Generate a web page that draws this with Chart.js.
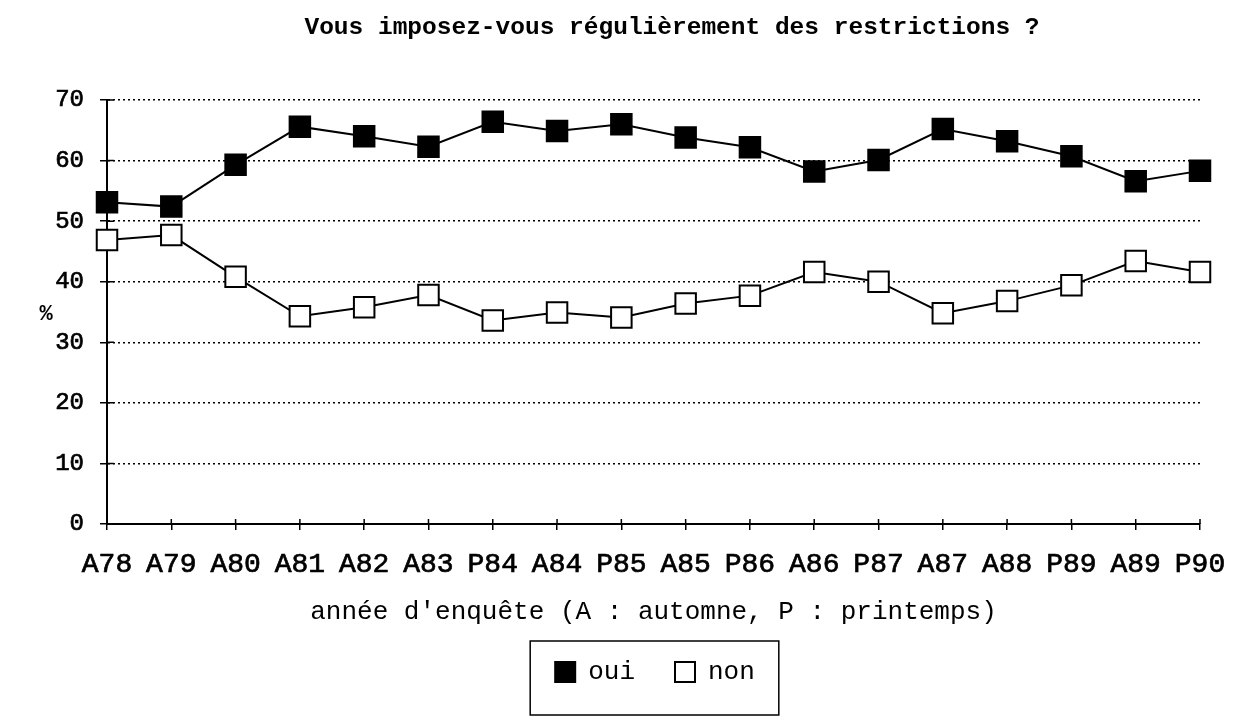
<!DOCTYPE html>
<html>
<head>
<meta charset="utf-8">
<script src="https://cdn.jsdelivr.net/npm/chart.js@4"></script>
<style>
  html, body { margin: 0; padding: 0; background: #fff; }
  #wrap { width: 1246px; height: 716px; }
</style>
</head>
<body>
<div id="wrap"><canvas id="c" width="1246" height="716"></canvas></div>
<script>
const titleText = "Vous imposez-vous régulièrement des restrictions ?";
const xTitle = "année d'enquête (A : automne, P : printemps)";
const yTitle = "%";
const categories = ["A78","A79","A80","A81","A82","A83","P84","A84","P85","A85","P86","A86","P87","A87","A88","P89","A89","P90"];
const ouiValues = [53.1, 52.4, 59.3, 65.6, 64.0, 62.3, 66.4, 64.9, 66.0, 63.8, 62.2, 58.2, 60.1, 65.2, 63.2, 60.7, 56.6, 58.3];
const nonValues = [46.9, 47.7, 40.8, 34.3, 35.8, 37.8, 33.6, 34.9, 34.1, 36.4, 37.7, 41.6, 40.0, 34.8, 36.8, 39.4, 43.4, 41.6];
const seriesNames = ["oui", "non"];
const yTicks = [0, 10, 20, 30, 40, 50, 60, 70];

const FONT = "'Liberation Mono', 'Courier New', monospace";

const decorPlugin = {
  id: 'decor',
  afterLayout(chart) {
    const lg = chart.legend;
    if (!lg) return;
    const h = lg.bottom - lg.top;
    const targetCenter = 655;
    const d = targetCenter - (lg.left + lg.right) / 2;
    lg.left += d; lg.right += d;
    lg.top = 619; lg.bottom = lg.top + h;
  },
  afterDraw(chart) {
    const ctx = chart.ctx;
    ctx.save();
    // title
    ctx.fillStyle = '#000';
    ctx.font = "bold 24.5px " + FONT;
    ctx.textAlign = 'center';
    ctx.textBaseline = 'alphabetic';
    ctx.fillText(titleText, 672, 34);
    // y title (horizontal)
    ctx.font = "bold 22px " + FONT;
    ctx.fillText(yTitle, 46, 320);
    // inner halves of the axis ticks (crossing marks)
    const xs = chart.scales.x, ys = chart.scales.y;
    ctx.strokeStyle = '#000';
    ctx.lineWidth = 1.5;
    ctx.beginPath();
    ys.ticks.forEach((t, i) => {
      const y = ys.getPixelForTick(i);
      ctx.moveTo(xs.left, y); ctx.lineTo(xs.left + 7, y);
    });
    xs.ticks.forEach((t, i) => {
      const x = xs.getPixelForTick(i);
      ctx.moveTo(x, ys.bottom); ctx.lineTo(x, ys.bottom - 5);
    });
    ctx.stroke();
    // legend frame
    const lg = chart.legend;
    if (lg && lg.legendHitBoxes && lg.legendHitBoxes.length) {
      const hb = lg.legendHitBoxes;
      const l = hb[0].left - 25;
      const r = hb[hb.length - 1].left + hb[hb.length - 1].width + 24;
      const t = hb[0].top - 18;
      const b = 715;
      ctx.lineWidth = 1.5;
      ctx.strokeRect(l, t, r - l, b - t);
    }
    ctx.restore();
  }
};

new Chart(document.getElementById('c'), {
  type: 'line',
  data: {
    labels: categories,
    datasets: [
      {
        label: seriesNames[0],
        data: ouiValues,
        borderColor: '#000',
        backgroundColor: '#000',
        borderWidth: 2,
        pointStyle: 'rect',
        pointRadius: 14.5,
        pointBackgroundColor: '#000',
        pointBorderColor: '#000',
        pointBorderWidth: 2,
        tension: 0,
        clip: false
      },
      {
        label: seriesNames[1],
        data: nonValues,
        borderColor: '#000',
        backgroundColor: '#fff',
        borderWidth: 2,
        pointStyle: 'rect',
        pointRadius: 14.5,
        pointBackgroundColor: '#fff',
        pointBorderColor: '#000',
        pointBorderWidth: 2,
        tension: 0,
        clip: false
      }
    ]
  },
  options: {
    responsive: false,
    animation: false,
    events: [],
    layout: { padding: { top: 100, left: 0, right: 46, bottom: 0 } },
    plugins: {
      title: { display: false },
      tooltip: { enabled: false },
      legend: {
        display: true,
        position: 'bottom',
        labels: {
          color: '#000',
          font: { family: FONT, size: 26 },
          boxWidth: 20,
          boxHeight: 20,
          padding: 40
        }
      }
    },
    scales: {
      x: {
        type: 'category',
        offset: false,
        grid: {
          display: true,
          drawOnChartArea: false,
          drawTicks: true,
          tickLength: 6,
          color: '#000',
          lineWidth: 1.5
        },
        border: { display: true, color: '#000', width: 2 },
        ticks: {
          color: '#000',
          font: { family: FONT, size: 28 },
          textStrokeColor: '#000',
          textStrokeWidth: 0.7,
          padding: 18,
          maxRotation: 0,
          autoSkip: false
        },
        title: {
          display: true,
          text: xTitle,
          color: '#000',
          font: { family: FONT, size: 26 },
          padding: { top: 0, bottom: 12 }
        },
        afterFit(scale) { scale.height = 116; }
      },
      y: {
        min: 0,
        max: 70,
        afterBuildTicks(scale) { scale.ticks = yTicks.map(v => ({ value: v })); },
        grid: {
          display: true,
          drawOnChartArea: true,
          drawTicks: true,
          tickLength: 7,
          color: '#000',
          lineWidth: 1.5,
          tickBorderDash: [],
          tickColor: '#000'
        },
        border: { display: true, color: '#000', width: 2, dash: [2, 3] },
        ticks: {
          color: '#000',
          font: { family: FONT, size: 24 },
          textStrokeColor: '#000',
          textStrokeWidth: 0.7,
          padding: 16
        },
        afterFit(scale) { scale.width = 107; }
      }
    }
  },
  plugins: [decorPlugin]
});
</script>
</body>
</html>
